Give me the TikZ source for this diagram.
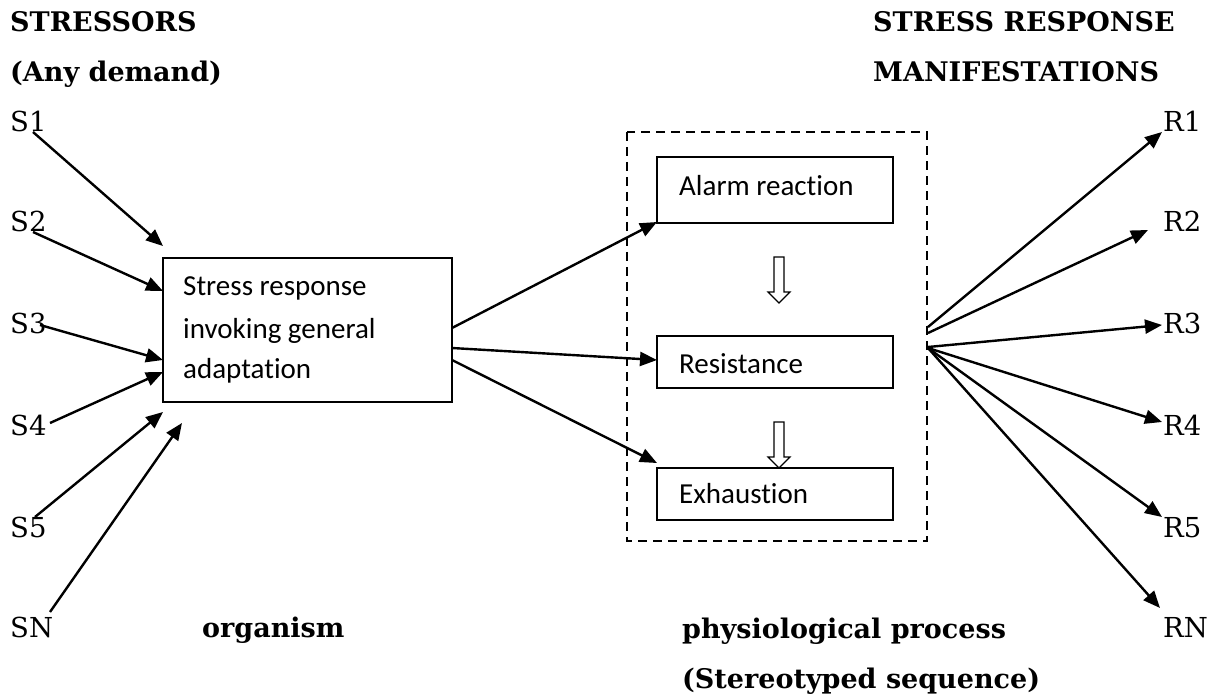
\documentclass[tikz,border=0pt]{standalone}
\usepackage{fontspec}
\usetikzlibrary{arrows.meta}
\newfontfamily\bkfont{DejaVu Serif}
\newfontfamily\cbfont[Ligatures=NoCommon]{Carlito}
\begin{document}
\begin{tikzpicture}[x=1pt,y=-1pt,
  lbl/.style={anchor=base west,inner sep=0pt,font=\bkfont\fontsize{27.5}{33}\selectfont},
  hdr/.style={anchor=base west,inner sep=0pt,font=\bkfont\bfseries\fontsize{27}{33}\selectfont},
  btxt/.style={anchor=base west,inner sep=0pt,font=\cbfont\fontsize{29}{35}\selectfont},
  boxline/.style={draw,line width=1.8pt},
  arr/.style={line width=2.4pt,-{Triangle[length=17pt,width=14pt]}},
  hollow/.style={draw,fill=white,line width=1.2pt}]
\useasboundingbox (0,0) rectangle (1208,695);
% headers
\node[hdr] (h1) at (10,32) {STRESSORS};
\node[hdr] (h2) at (10,82) {(Any demand)};
\node[hdr] (h3) at (873,32) {STRESS RESPONSE};
\node[hdr] (h4) at (873,82) {MANIFESTATIONS};
\node[hdr] (h5) at (202,637) {organism};
\node[hdr] (h6) at (682,638) {physiological process};
\node[hdr] (h7) at (682,688) {(Stereotyped sequence)};
% stressor labels
\node[lbl] (S1) at (10,132) {S1};
\node[lbl] (S2) at (10,232) {S2};
\node[lbl] (S3) at (10,333) {S3};
\node[lbl] (S4) at (10,435) {S4};
\node[lbl] (S5) at (10,537) {S5};
\node[lbl] (SN) at (10,637) {SN};
% response labels
\node[lbl] (R1) at (1163,132) {R1};
\node[lbl] (R2) at (1163,232) {R2};
\node[lbl] (R3) at (1163,333) {R3};
\node[lbl] (R4) at (1163,435) {R4};
\node[lbl] (R5) at (1163,537) {R5};
\node[lbl] (RN) at (1163,637) {RN};
% main box
\draw[boxline] (163,258) rectangle (452,402);
\node[btxt] (t1) at (183,295) {Stress response};
\node[btxt] (t2) at (183,338) {invoking general};
\node[btxt] (t3) at (183,378) {adaptation};
% dashed group
\draw[line width=1.8pt,dash pattern=on 9pt off 6pt] (627,132) rectangle (927,541);
\draw[boxline] (657,157) rectangle (893,223);
\node[btxt] (a) at (679,196) {Alarm reaction};
\draw[boxline] (657,336) rectangle (893,388);
\node[btxt] (r) at (679,373) {Resistance};
\draw[boxline] (657,468) rectangle (893,520);
\node[btxt] (e) at (679,503) {Exhaustion};
% hollow arrows
\draw[hollow] (774,257)--(784,257)--(784,292)--(790,292)--(779,303)--(768,292)--(774,292)--cycle;
\draw[hollow] (774,422)--(784,422)--(784,457)--(790,457)--(779,468)--(768,457)--(774,457)--cycle;
% coordinates
\coordinate (s1a) at (33,132); \coordinate (s1b) at (163,246);
\coordinate (s2a) at (33,232); \coordinate (s2b) at (163,291);
\coordinate (s3a) at (40,325); \coordinate (s3b) at (163,360);
\coordinate (s4a) at (50,423); \coordinate (s4b) at (163,372);
\coordinate (s5a) at (35,517); \coordinate (s5b) at (163,412);
\coordinate (sna) at (50,612); \coordinate (snb) at (182,423);
\coordinate (m1) at (452,328); \coordinate (m1b) at (657,222);
\coordinate (m2) at (452,348); \coordinate (m2b) at (657,360);
\coordinate (m3) at (452,360); \coordinate (m3b) at (657,463);
\coordinate (o1) at (928,327); \coordinate (o2) at (928,333);
\coordinate (o3) at (928,347); \coordinate (o4) at (928,348);
\coordinate (r1b) at (1162,132); \coordinate (r2b) at (1148,230);
\coordinate (r3b) at (1162,325); \coordinate (r4b) at (1162,422);
\coordinate (r5b) at (1162,517); \coordinate (rnb) at (1160,608);
\draw[arr] (s1a) -- (s1b);
\draw[arr] (s2a) -- (s2b);
\draw[arr] (s3a) -- (s3b);
\draw[arr] (s4a) -- (s4b);
\draw[arr] (s5a) -- (s5b);
\draw[arr] (sna) -- (snb);
\draw[arr] (m1) -- (m1b);
\draw[arr] (m2) -- (m2b);
\draw[arr] (m3) -- (m3b);
\draw[arr] (o1) -- (r1b);
\draw[arr] (o2) -- (r2b);
\draw[arr] (o3) -- (r3b);
\draw[arr] (o4) -- (r4b);
\draw[arr] (o4) -- (r5b);
\draw[arr] (o4) -- (rnb);
\end{tikzpicture}
\end{document}
